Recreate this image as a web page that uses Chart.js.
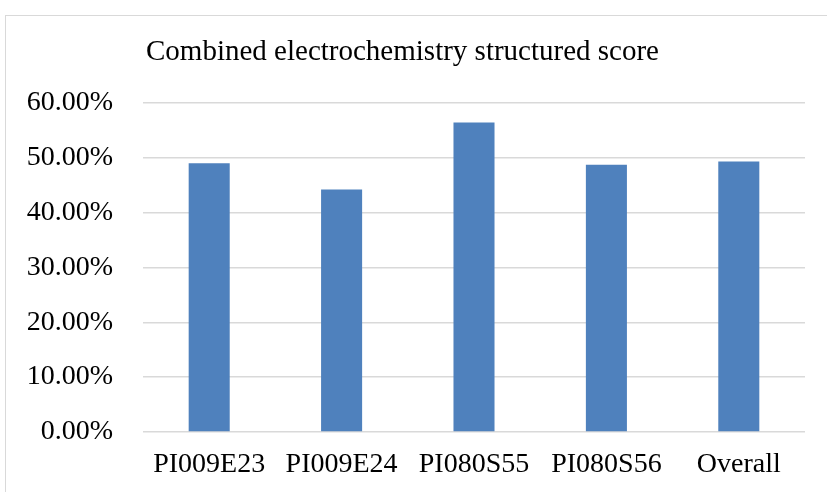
<!DOCTYPE html>
<html>
<head>
<meta charset="utf-8">
<script src="https://cdn.jsdelivr.net/npm/chart.js@4/dist/chart.umd.min.js"></script>
<style>
  html, body { margin: 0; padding: 0; background: #fff; }
  #wrap { position: relative; width: 827px; height: 492px; overflow: hidden; }
  #frame { position: absolute; left: 5px; top: 15px; width: 840px; height: 500px; border: 1px solid #d9d9d9; box-sizing: border-box; }
  #myChart { position: absolute; left: 0; top: 0; }
</style>
</head>
<body>
<div id="wrap">
  <div id="frame"></div>
  <canvas id="myChart" width="827" height="492"></canvas>
</div>
<script>
// values (fractions, shown as percent)
const categories = ['PI009E23', 'PI009E24', 'PI080S55', 'PI080S56', 'Overall'];
const scores = [0.490, 0.442, 0.564, 0.487, 0.493];
const yTicks = [0, 0.1, 0.2, 0.3, 0.4, 0.5, 0.6];

const serif = "'Liberation Serif', 'Times New Roman', serif";

const ctx = document.getElementById('myChart');
new Chart(ctx, {
    type: 'bar',
    data: {
      labels: categories,
      datasets: [{
        data: scores,
        backgroundColor: '#4F81BD',
        borderWidth: 0,
        categoryPercentage: 1.0,
        barPercentage: 0.31
      }]
    },
    options: {
      responsive: false,
      animation: false,
      layout: {
        padding: { left: 0, right: 22, top: 0, bottom: 0 }
      },
      scales: {
        y: {
          min: 0,
          max: 0.6,
          afterBuildTicks: (axis) => {
            axis.ticks = yTicks.map(v => ({ value: v }));
          },
          afterFit: (axis) => { axis.width = 143; },
          border: { display: false },
          grid: {
            color: '#d9d9d9',
            lineWidth: 1.5,
            drawTicks: false
          },
          ticks: {
            padding: 30,
            color: '#000',
            font: { family: serif, size: 28 },
            callback: (v) => (v * 100).toFixed(2) + '%'
          }
        },
        x: {
          afterFit: (axis) => { axis.height = 60; },
          border: { display: false },
          grid: { display: false, drawTicks: false },
          ticks: {
            padding: 16,
            color: '#000',
            maxRotation: 0,
            font: { family: serif, size: 28 }
          }
        }
      },
      plugins: {
        legend: {
            display: false
        },
        tooltip: { enabled: false },
        title: {
            display: true,
            text: 'Combined electrochemistry structured score',
            color: '#000',
            padding: { top: 35, bottom: 33 },
            font: {
                family: serif,
                size: 29,
                weight: 'normal'
            }
        }
      }
    }
});
</script>
</body>
</html>
